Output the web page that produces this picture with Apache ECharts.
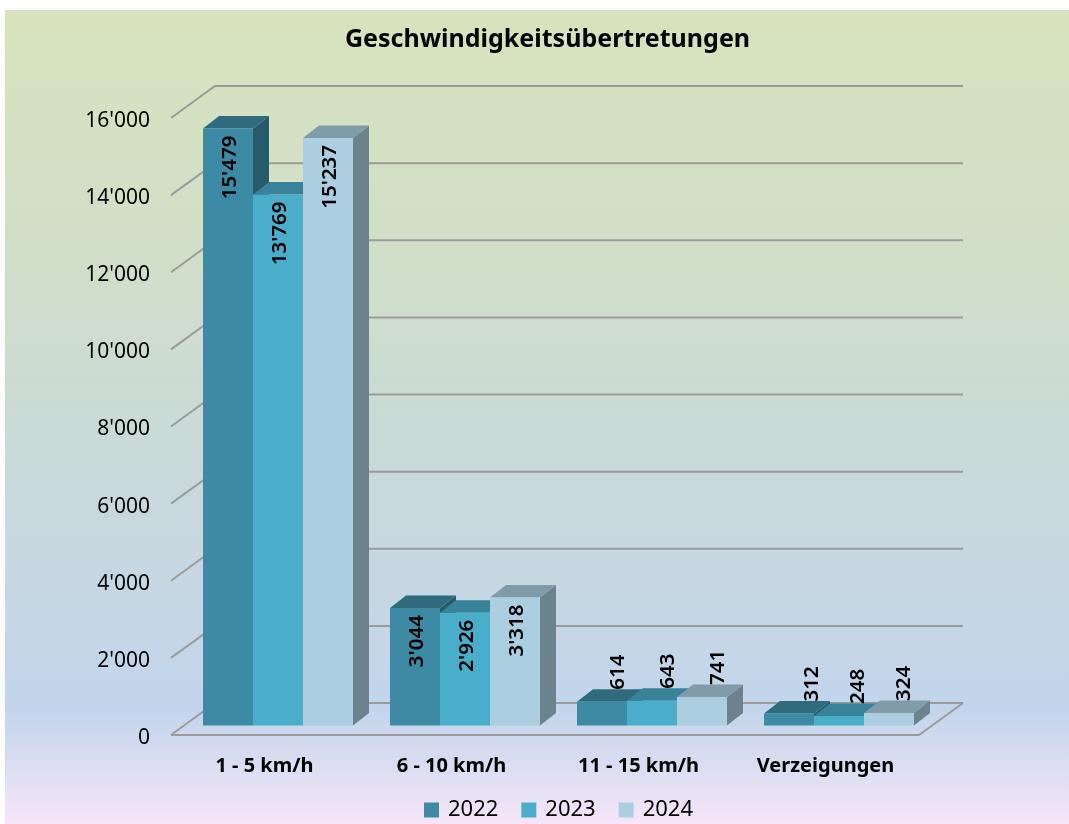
<!DOCTYPE html>
<html><head><meta charset="utf-8">
<style>html,body{margin:0;padding:0;background:#fff}#c{width:1069px;height:824px}</style>
<script src="https://cdn.jsdelivr.net/npm/echarts@6/dist/echarts.min.js"></script>
</head><body><div id="c"></div>
<script>
const categories = ['1 - 5 km/h','6 - 10 km/h','11 - 15 km/h','Verzeigungen'];
const years = ['2022','2023','2024'];
const values2022 = [15479,3044,614,312];
const values2023 = [13769,2926,643,248];
const values2024 = [15237,3318,741,324];
const yTicks = [0,2000,4000,6000,8000,10000,12000,14000,16000];

const FONT = '"Noto Sans", sans-serif';
const fmt = v => String(v).replace(/\B(?=(\d{3})+$)/g, "'");
const faces = [
  {front:'#3c8aa4', top:'#2f6b7d', side:'#275a6a'},
  {front:'#4aaeca', top:'#38839a', side:'#357b8f'},
  {front:'#abcfe0', top:'#7f9ca8', side:'#6c828c'}
];
const WALL_DX = 44, WALL_DY = -32, BAR_DX = 16, BAR_DY = -12.5, BAR_W = 50, LIFT = 9.5, SHIFT = 13.5;
const LINE = {stroke:'#9b9b9b', lineWidth:2, fill:null};

function wallItem(params, api){
  const val = api.value(0);
  const cs = params.coordSys;
  const p = api.coord([0, val]);
  const y = p[1], x0 = cs.x, x1 = cs.x + cs.width;
  const children = [
    {type:'polyline', shape:{points:[[x0,y],[x0+WALL_DX,y+WALL_DY],[x1+WALL_DX,y+WALL_DY]]}, style:LINE}
  ];
  if (val === 0) {
    children.push({type:'polyline', shape:{points:[[x0,y],[x1,y],[x1+WALL_DX,y+WALL_DY]]}, style:LINE});
  }
  return {type:'group', children};
}
function barRender(si){
  return function(params, api){
    const cat = api.value(0), val = api.value(1);
    const f = faces[si];
    const base = api.coord([cat,0]);
    const top = api.coord([cat,val]);
    const l = base[0] + SHIFT + (si-1)*BAR_W - BAR_W/2, r = l + BAR_W;
    const yb = base[1] - LIFT, yt = top[1] - LIFT;
    const big = val >= 1000;
    const cx = (l+r)/2;
    const labelX = big ? cx + 2.5 : cx + (cat === 3 ? 23 - 4*si : 16);
    return {type:'group', children:[
      {type:'polygon', shape:{points:[[r,yb],[r+BAR_DX,yb+BAR_DY],[r+BAR_DX,yt+BAR_DY],[r,yt]]}, style:{fill:f.side}},
      {type:'polygon', shape:{points:[[l,yt],[r,yt],[r+BAR_DX,yt+BAR_DY],[l+BAR_DX,yt+BAR_DY]]}, style:{fill:f.top}},
      {type:'rect', shape:{x:l,y:yt,width:BAR_W,height:yb-yt}, style:{fill:f.front}},
      {type:'text', x:labelX, y: big ? yt+7 : yt-12, rotation:Math.PI/2, z2:10,
        style:{text:fmt(val), textAlign: big ? 'right':'left', textVerticalAlign:'middle',
               font:'600 20.5px '+FONT, fill:'#000'}}
    ]};
  };
}
const series = [
  {type:'custom', name:'wall', silent:true, clip:false, z:1, data:yTicks.map(v=>[v]), renderItem:wallItem,
   encode:{y:0}, xAxisIndex:0, yAxisIndex:0}
];
[values2022,values2023,values2024].forEach((vals,si)=>{
  series.push({type:'custom', name:years[si], clip:false, z:2+si, itemStyle:{color:faces[si].front},
    data:vals.map((v,i)=>[i,v]), encode:{x:0,y:1}, renderItem:barRender(si)});
});
const chart = echarts.init(document.getElementById('c'),null,{renderer:'canvas'});
chart.setOption({
  animation:false,
  graphic:[{type:'rect', z:-10, shape:{x:5,y:10,width:1064,height:814},
    style:{fill:new echarts.graphic.LinearGradient(0,0,0,1,[
      {offset:0,color:'#d8e3bd'},{offset:0.35,color:'#cfdecb'},{offset:0.6,color:'#c8d8dc'},
      {offset:0.86,color:'#c3d5ec'},{offset:1,color:'#f6e6f8'}])}}],
  title:{text:'Geschwindigkeitsübertretungen', left:542.5, top:22, textAlign:'center',
    textStyle:{fontFamily:FONT,fontWeight:'bold',fontSize:25,color:'#000'}},
  legend:{data:years, left:419, top:794, icon:'rect', itemWidth:15, itemHeight:15, itemGap:23,
    textStyle:{fontFamily:FONT,fontSize:22,color:'#000',padding:[0,0,0,4]}},
  grid:{left:171, top:118, width:748, height:617, containLabel:false},
  xAxis:{type:'category', data:categories, axisLine:{show:false}, axisTick:{show:false},
    axisLabel:{fontFamily:FONT,fontWeight:'bold',fontSize:20,color:'#000',margin:21}},
  yAxis:{type:'value', min:0, max:16000, interval:2000, axisLine:{show:false}, axisTick:{show:false},
    splitLine:{show:false},
    axisLabel:{margin:21,formatter:v=>'{a|'+fmt(v)+'}',
      rich:{a:{fontFamily:FONT,fontSize:21,color:'#000',padding:[6,0,0,0]}}}},
  series
});
</script></body></html>
